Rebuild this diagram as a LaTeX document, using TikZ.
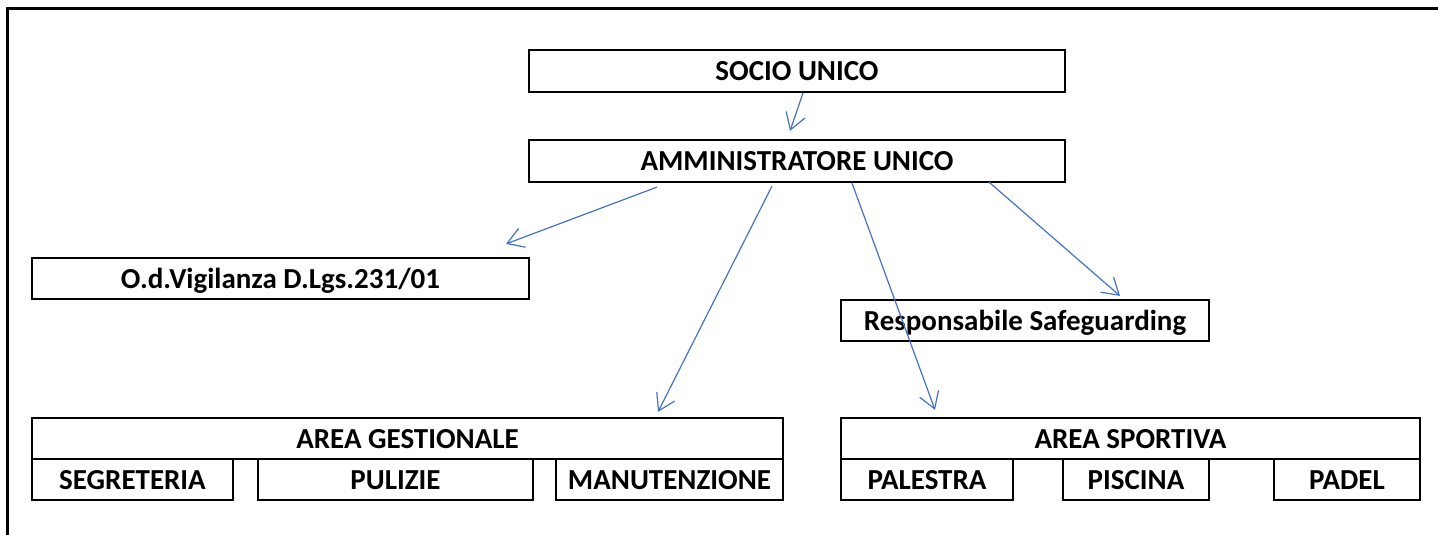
\documentclass[tikz,border=0pt]{standalone}
\usepackage{fontspec}
\setmainfont{Carlito}
\usepackage{xcolor}
\usepackage{tikz}
\usetikzlibrary{arrows.meta,positioning}

\definecolor{linkblue}{HTML}{4472C4}

\begin{document}
\begin{tikzpicture}[
    x=1pt, y=-1pt,
    unit/.style={rectangle, draw, line width=2.2pt, inner sep=0pt,
                 minimum height=41pt, text height=19pt, text depth=0pt,
                 align=center, font=\fontsize{29}{34}\selectfont\bfseries},
    arr/.style={-{Straight Barb[length=16pt, width=20pt, line width=1.2pt]},
                draw=linkblue, line width=1.2pt},
    frame/.style={line width=3pt},
  ]
  \useasboundingbox (0,0) rectangle (1438,535);

  % ===== outer frame (top and left edges only) =====
  \draw[frame] (7,535) -- (7,9) -- (1438,9);

  % ===== top of the chart =====
  \node[unit, minimum width=536pt, minimum height=42pt] (socio) at (797, 71) {SOCIO UNICO};
  \node[unit, minimum width=536pt, minimum height=42pt] (amm) at (797, 161) {AMMINISTRATORE UNICO};

  % ===== staff units =====
  \node[unit, minimum width=497pt] (odv) at (280.5, 278.5) {O.d.Vigilanza D.Lgs.231/01};
  \node[unit, minimum width=368pt] (resp) at (1025, 320.5) {Responsabile Safeguarding};

  % ===== area gestionale =====
  \node[unit, minimum width=751pt] (gest) at (407.5, 438.5) {AREA GESTIONALE};
  \node[unit, minimum width=201pt] (segr) at (132.5, 479.5) {SEGRETERIA};
  \node[unit, minimum width=275pt] (pul) at (395.5, 479.5) {PULIZIE};
  \node[unit, minimum width=227pt] (man) at (669.5, 479.5) {MANUTENZIONE};

  % ===== area sportiva =====
  \node[unit, minimum width=579pt] (sport) at (1130.5, 438.5) {AREA SPORTIVA};
  \node[unit, minimum width=172pt] (pal) at (927, 479.5) {PALESTRA};
  \node[unit, minimum width=146pt] (pisc) at (1136, 479.5) {PISCINA};
  \node[unit, minimum width=146pt] (pad) at (1347, 479.5) {PADEL};

  % ===== connectors =====
  \draw[arr] ([xshift=6pt]socio.south) -- ([xshift=-7pt, yshift=8pt]amm.north);
  \draw[arr] ([xshift=-140pt, yshift=-4pt]amm.south) -- ([xshift=225.5pt, yshift=13pt]odv.north);
  \draw[arr] ([xshift=-25pt, yshift=-3pt]amm.south) -- ([xshift=250.5pt, yshift=5pt]gest.north);
  \draw[arr] ([xshift=55pt]amm.south) -- ([xshift=-195.5pt, yshift=7pt]sport.north);
  \draw[arr] ([xshift=192pt, yshift=1pt]amm.south) -- ([xshift=95pt, yshift=3pt]resp.north);

\end{tikzpicture}
\end{document}
